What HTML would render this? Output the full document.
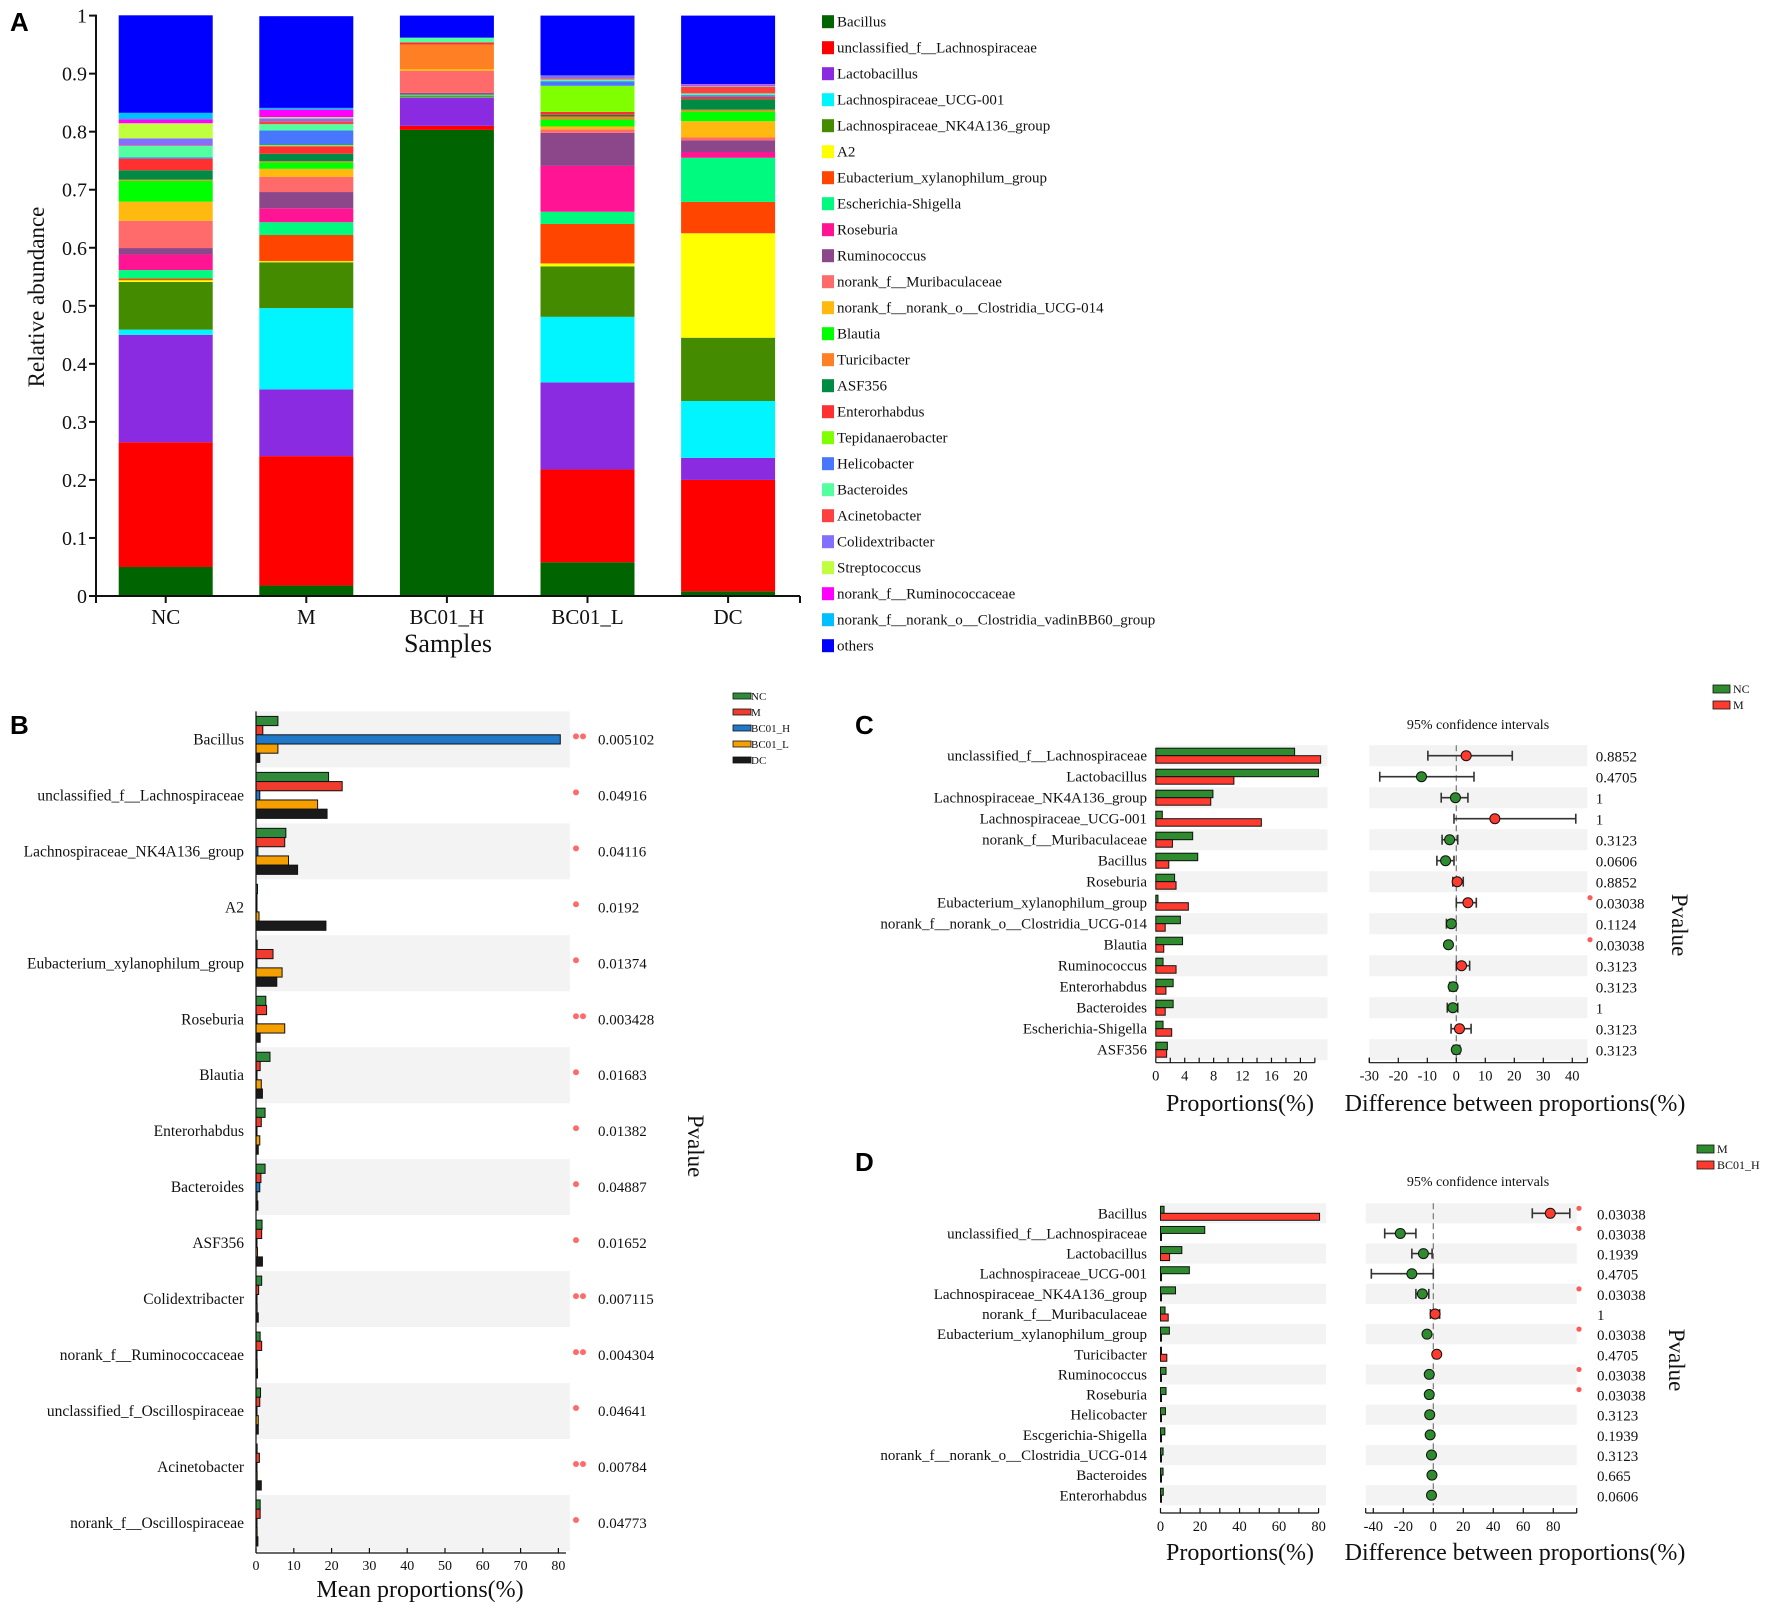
<!DOCTYPE html>
<html><head><meta charset="utf-8"><style>
html,body{margin:0;padding:0;background:#fff;}
svg{display:block;font-family:"Liberation Serif",serif;}
.pl{font-family:"Liberation Sans",sans-serif;font-weight:bold;font-size:26px;}
</style></head><body>
<svg id="fig" width="1772" height="1612" viewBox="0 0 1772 1612" xmlns="http://www.w3.org/2000/svg">
<rect x="0" y="0" width="1772" height="1612" fill="#fff"/>
<text class="pl" x="10" y="31">A</text>
<text class="pl" x="10" y="734">B</text>
<text class="pl" x="855" y="734">C</text>
<text class="pl" x="855" y="1171">D</text>
</svg>
<script>
// ---------- Panel A data ----------
const aSamples = ["NC","M","BC01_H","BC01_L","DC"];
const aTaxa = ["Bacillus","unclassified_f__Lachnospiraceae","Lactobacillus","Lachnospiraceae_UCG-001","Lachnospiraceae_NK4A136_group","A2","Eubacterium_xylanophilum_group","Escherichia-Shigella","Roseburia","Ruminococcus","norank_f__Muribaculaceae","norank_f__norank_o__Clostridia_UCG-014","Blautia","Turicibacter","ASF356","Enterorhabdus","Tepidanaerobacter","Helicobacter","Bacteroides","Acinetobacter","Colidextribacter","Streptococcus","norank_f__Ruminococcaceae","norank_f__norank_o__Clostridia_vadinBB60_group","others"];
const aColors = ["#006400","#ff0000","#8a2be2","#00f5ff","#458b00","#ffff00","#ff4500","#00fa7f","#ff1493","#8b4789","#ff6a6a","#ffb90f","#00ff00","#ff7f24","#008b45","#ff3030","#7fff00","#4876ff","#54ff9f","#ff4040","#836fff","#c0ff3e","#ff00ff","#00bfff","#0000ff"];
const aNC = [0.050,0.215,0.185,0.009,0.082,0.003,0.003,0.0145,0.027,0.011,0.047,0.033,0.036,0.002,0.016,0.020,0.000,0.002,0.020,0.001,0.012,0.026,0.007,0.011,0.168];
const aM = [0.018,0.223,0.115,0.140,0.079,0.002,0.045,0.022,0.024,0.028,0.026,0.014,0.011,0.002,0.013,0.013,0.002,0.025,0.011,0.005,0.005,0.002,0.013,0.003,0.158];
const aH = [0.803,0.007,0.048,0.001,0.002,0.000,0.001,0.002,0.001,0.002,0.038,0.003,0.000,0.042,0.000,0.004,0.000,0.000,0.008,0.000,0.000,0.000,0.000,0.000,0.038];
const aL = [0.058,0.160,0.150,0.113,0.087,0.005,0.068,0.021,0.079,0.057,0.006,0.005,0.012,0.005,0.003,0.005,0.045,0.008,0.003,0.002,0.005,0.000,0.000,0.000,0.103];
const aDC = [0.008,0.192,0.038,0.098,0.109,0.180,0.054,0.076,0.010,0.020,0.005,0.028,0.017,0.003,0.018,0.004,0.000,0.003,0.003,0.011,0.001,0.001,0.002,0.001,0.118];
const aYTicks = [0,0.1,0.2,0.3,0.4,0.5,0.6,0.7,0.8,0.9,1];
const aYTickLabels = ["0","0.1","0.2","0.3","0.4","0.5","0.6","0.7","0.8","0.9","1"];

// ---------- Panel B data ----------
const bTaxa = ["Bacillus","unclassified_f__Lachnospiraceae","Lachnospiraceae_NK4A136_group","A2","Eubacterium_xylanophilum_group","Roseburia","Blautia","Enterorhabdus","Bacteroides","ASF356","Colidextribacter","norank_f__Ruminococcaceae","unclassified_f_Oscillospiraceae","Acinetobacter","norank_f__Oscillospiraceae"];
const bGroups = ["NC","M","BC01_H","BC01_L","DC"];
const bColors = ["#2f8a3a","#f03c2c","#1f78c8","#f5a000","#1a1a1a"];
const bNC = [5.8,19.2,7.9,0.4,0.3,2.6,3.7,2.4,2.4,1.6,1.5,1.1,1.2,0.3,1.1];
const bM = [1.8,22.8,7.6,0.2,4.5,2.8,1.1,1.4,1.3,1.5,0.7,1.5,1.0,0.9,1.1];
const bH = [80.5,1.0,0.5,0.1,0.1,0.1,0.1,0.2,1.0,0.1,0.1,0.1,0.2,0.1,0.2];
const bL = [5.8,16.3,8.6,0.8,6.9,7.6,1.4,1.0,0.3,0.4,0.3,0.3,0.6,0.3,0.3];
const bDC = [1.0,18.8,11.0,18.5,5.5,1.1,1.7,0.6,0.5,1.7,0.6,0.4,0.6,1.4,0.5];
const bPvals = ["0.005102","0.04916","0.04116","0.0192","0.01374","0.003428","0.01683","0.01382","0.04887","0.01652","0.007115","0.004304","0.04641","0.00784","0.04773"];
const bStars = [2,1,1,1,1,2,1,1,1,1,2,2,1,2,1];
const bTicks = [0,10,20,30,40,50,60,70,80];

// ---------- Panel C data ----------
const cTaxa = ["unclassified_f__Lachnospiraceae","Lactobacillus","Lachnospiraceae_NK4A136_group","Lachnospiraceae_UCG-001","norank_f__Muribaculaceae","Bacillus","Roseburia","Eubacterium_xylanophilum_group","norank_f__norank_o__Clostridia_UCG-014","Blautia","Ruminococcus","Enterorhabdus","Bacteroides","Escherichia-Shigella","ASF356"];
const cNC = [19.2,22.5,7.9,0.9,5.1,5.8,2.6,0.3,3.4,3.7,1.0,2.4,2.4,1.0,1.6];
const cM = [22.8,10.8,7.6,14.6,2.3,1.8,2.8,4.5,1.3,1.1,2.8,1.4,1.3,2.2,1.5];
const cDiff = [3.4,-12.0,-0.3,13.3,-2.3,-3.7,0.3,4.0,-1.7,-2.7,1.8,-1.1,-1.2,1.1,0.0];
const cLow = [-9.8,-26.4,-5.2,-0.8,-4.9,-6.7,-1.2,0.0,-3.4,-3.1,0.0,-2.3,-3.1,-1.8,-1.0];
const cHigh = [19.3,6.1,4.0,41.2,0.5,-0.8,2.4,6.9,-0.9,-2.2,4.6,0.0,0.5,5.1,1.2];
const cPvals = ["0.8852","0.4705","1","1","0.3123","0.0606","0.8852","0.03038","0.1124","0.03038","0.3123","0.3123","1","0.3123","0.3123"];
const cSig = [0,0,0,0,0,0,0,1,0,1,0,0,0,0,0];
const cBarTicks = [0,2,4,6,8,10,12,14,16,18,20,22];
const cBarTickLabels = ["0","","4","","8","","12","","16","","20",""];
const cDiffTicks = [-30,-20,-10,0,10,20,30,40];
const cDiffTickLabels = ["-30","-20","-10","0","10","20","30","40"];

// ---------- Panel D data ----------
const dTaxa = ["Bacillus","unclassified_f__Lachnospiraceae","Lactobacillus","Lachnospiraceae_UCG-001","Lachnospiraceae_NK4A136_group","norank_f__Muribaculaceae","Eubacterium_xylanophilum_group","Turicibacter","Ruminococcus","Roseburia","Helicobacter","Escgerichia-Shigella","norank_f__norank_o__Clostridia_UCG-014","Bacteroides","Enterorhabdus"];
const dM = [1.8,22.4,10.8,14.6,7.6,2.3,4.5,0.2,2.8,2.8,2.5,2.2,1.3,1.3,1.4];
const dH = [80.5,0.5,4.6,0.3,0.5,3.9,0.2,3.2,0.3,0.2,0.1,0.1,0.1,0.1,0.1];
const dDiff = [78.0,-22.0,-6.6,-14.3,-7.3,1.2,-4.2,2.3,-2.7,-2.7,-2.4,-2.1,-1.2,-0.9,-1.2];
const dLow = [66.0,-32.4,-14.3,-41.3,-11.6,-1.9,-5.0,1.0,-3.3,-3.3,-3.0,-2.8,-1.6,-1.4,-1.7];
const dHigh = [91.0,-11.6,-0.8,0.0,-3.0,4.2,-3.5,3.5,-2.1,-2.1,-1.8,-1.4,-0.8,-0.4,-0.7];
const dPvals = ["0.03038","0.03038","0.1939","0.4705","0.03038","1","0.03038","0.4705","0.03038","0.03038","0.3123","0.1939","0.3123","0.665","0.0606"];
const dSig = [1,1,0,0,1,0,1,0,1,1,0,0,0,0,0];
const dBarTicks = [0,10,20,30,40,50,60,70,80];
const dBarTickLabels = ["0","","20","","40","","60","","80"];
const dDiffTicks = [-40,-20,0,20,40,60,80];
const dDiffTickLabels = ["-40","-20","0","20","40","60","80"];

const NS = "http://www.w3.org/2000/svg";
const svg = document.getElementById("fig");
function mk(tag, attrs, parent) {
  const e = document.createElementNS(NS, tag);
  for (const k in attrs) e.setAttribute(k, attrs[k]);
  (parent || svg).appendChild(e);
  return e;
}
function tx(x, y, s, size, anchor, extra) {
  const e = mk("text", Object.assign({x: x, y: y, "font-size": size, "text-anchor": anchor || "start", fill: "#111"}, extra || {}));
  e.textContent = s;
  return e;
}

// ================= PANEL A =================
(function () {
  const x0 = 96, y0 = 596, y1 = 15.6;
  const yS = v => y0 - v * (y0 - y1);
  const barW = 94, firstLeft = 118.7, step = 140.6;
  const xS = i => firstLeft + i * step;
  const series = [aNC, aM, aH, aL, aDC];
  series.forEach((vals, i) => {
    let cum = 0;
    vals.forEach((v, k) => {
      if (v <= 0) return;
      const r = mk("rect", {x: xS(i), y: yS(cum + v), width: barW, height: yS(cum) - yS(cum + v), fill: aColors[k]});
      
      
      cum += v;
    });
    const lab = tx(xS(i) + barW / 2, 624, aSamples[i], 21, "middle");
    
    
    const t = mk("line", {x1: xS(i) + barW / 2, x2: xS(i) + barW / 2, y1: y0, y2: y0 + 7, stroke: "#111", "stroke-width": 2});
    
    
  });
  const ya = mk("line", {x1: x0, x2: x0, y1: y1 - 1, y2: y0 + 1, stroke: "#111", "stroke-width": 2});
  
  
  const xa = mk("line", {x1: x0 - 1, x2: 800, y1: y0, y2: y0, stroke: "#111", "stroke-width": 2});
  
  
  [x0, 800].forEach(xx => {
    const t = mk("line", {x1: xx, x2: xx, y1: y0, y2: y0 + 7, stroke: "#111", "stroke-width": 2});
    
    
  });
  aYTicks.forEach((v, i) => {
    const t = mk("line", {x1: x0 - 7, x2: x0, y1: yS(v), y2: yS(v), stroke: "#111", "stroke-width": 2});
    
    
    const l = tx(x0 - 9, yS(v) + 7, aYTickLabels[i], 20, "end");
    
    
  });
  const yt = tx(0, 0, "Relative abundance", 23, "middle", {transform: "translate(44,297) rotate(-90)"});
  
  
  const xt = tx(448, 652, "Samples", 26, "middle");
  
  
  aTaxa.forEach((n, k) => {
    const cy = 21.7 + k * 26;
    const s = mk("rect", {x: 822, y: cy - 6.5, width: 12, height: 13, fill: aColors[k]});
    
    
    const l = tx(837, cy + 5, n, 15, "start");
    
    
  });
})();

// ================= PANEL B =================
(function () {
  const x0 = 256, xs = 3.78, cy0 = 739.4, dy = 55.97, bandEnd = 570, axY = 1553;
  const xS = v => x0 + v * xs;
  const series = [bNC, bM, bH, bL, bDC];
  bTaxa.forEach((n, i) => {
    const cy = cy0 + i * dy;
    if (i % 2 === 0) {
      const b = mk("rect", {x: x0, y: cy - dy / 2, width: bandEnd - x0, height: dy, fill: "#f3f3f3"});
      
      
    }
    series.forEach((vals, g) => {
      const r = mk("rect", {x: x0, y: cy - 23 + g * 9.2, width: Math.max(xS(vals[i]) - x0, 1), height: 9.2, fill: bColors[g], stroke: "#111", "stroke-width": 1});
      
      
    });
    const l = tx(244, cy + 5, n, 15.5, "end");
    
    
    for (let s = 0; s < bStars[i]; s++) {
      const d = mk("circle", {cx: 576 + s * 7, cy: cy - 3, r: 3, fill: "#ff6b6b"});
      
      
    }
    const p = tx(598, cy + 5, bPvals[i], 15, "start");
    
    
  });
  const va = mk("line", {x1: x0, x2: x0, y1: cy0 - dy / 2, y2: axY, stroke: "#111", "stroke-width": 1.2});
  
  
  const ax = mk("line", {x1: x0, x2: xS(82), y1: axY, y2: axY, stroke: "#111", "stroke-width": 1.2});
  
  
  bTicks.forEach(v => {
    const t = mk("line", {x1: xS(v), x2: xS(v), y1: axY, y2: axY - 5, stroke: "#111", "stroke-width": 1.2});
    
    
    const l = tx(xS(v), axY + 17, String(v), 14, "middle");
    
    
  });
  const xt = tx(420, 1597, "Mean proportions(%)", 24, "middle");
  
  
  const pt = tx(0, 0, "Pvalue", 23, "middle", {transform: "translate(688,1146) rotate(90)"});
  
  
  bGroups.forEach((g, k) => {
    const cy = 696 + k * 16;
    const s = mk("rect", {x: 733, y: cy - 3, width: 18, height: 6, fill: bColors[k], stroke: "#111", "stroke-width": 0.8});
    
    
    const l = tx(751, cy + 4, g, 11, "start");
    
    
  });
})();

// ================= PANELS C & D =================
function extPanel(cfg) {
  const {taxa, g1, g2, diff, low, high, pvals, sig, names, colors} = cfg;
  const xS = v => cfg.bx0 + v * cfg.bs;
  const dS = v => cfg.d0 + v * cfg.ds;
  const bh = cfg.bh;
  const bandTop = cfg.cy0 - cfg.dy / 2;
  const bandBottom = cfg.cy0 + (taxa.length - 0.5) * cfg.dy;
  taxa.forEach((n, i) => {
    const cy = cfg.cy0 + i * cfg.dy;
    if (i % 2 === 0) {
      const b1 = mk("rect", {x: cfg.bx0, y: cy - cfg.dy / 2, width: cfg.bEnd - cfg.bx0, height: cfg.dy, fill: "#f3f3f3"});
      
      
      const b2 = mk("rect", {x: cfg.dStart, y: cy - cfg.dy / 2, width: cfg.dEnd - cfg.dStart, height: cfg.dy, fill: "#f3f3f3"});
      
      
    }
    const r1 = mk("rect", {x: cfg.bx0, y: cy - bh, width: Math.max(xS(g1[i]) - cfg.bx0, 1), height: bh, fill: colors[0], stroke: "#111", "stroke-width": 1});
    
    
    const r2 = mk("rect", {x: cfg.bx0, y: cy, width: Math.max(xS(g2[i]) - cfg.bx0, 1), height: bh, fill: colors[1], stroke: "#111", "stroke-width": 1});
    
    
    const l = tx(cfg.labX, cy + 5, n, 15, "end");
    
    
  });
  const z = mk("line", {x1: dS(0), x2: dS(0), y1: bandTop, y2: bandBottom, stroke: "#777", "stroke-width": 1.2, "stroke-dasharray": "6,4"});
  
  
  taxa.forEach((n, i) => {
    const cy = cfg.cy0 + i * cfg.dy;
    const ci = mk("line", {x1: dS(low[i]), x2: dS(high[i]), y1: cy, y2: cy, stroke: "#333", "stroke-width": 1.6});
    
    
    [low[i], high[i]].forEach(v => {
      const cap = mk("line", {x1: dS(v), x2: dS(v), y1: cy - 5, y2: cy + 5, stroke: "#333", "stroke-width": 1.6});
      
      
    });
    const pt = mk("circle", {cx: dS(diff[i]), cy: cy, r: 5, fill: diff[i] > 0 ? colors[1] : colors[0], stroke: "#111", "stroke-width": 1});
    
    
    if (sig[i]) {
      const s = mk("circle", {cx: cfg.starX, cy: cy - 5, r: 2.6, fill: "#ff5a5a"});
      
      
    }
    const p = tx(cfg.pX, cy + 6, pvals[i], 15, "start");
    
    
  });
  const a1 = mk("line", {x1: cfg.bx0, x2: xS(cfg.bTicks[cfg.bTicks.length - 1]), y1: cfg.axY, y2: cfg.axY, stroke: "#111", "stroke-width": 1.2});
  
  
  cfg.bTicks.forEach((v, k) => {
    const t = mk("line", {x1: xS(v), x2: xS(v), y1: cfg.axY, y2: cfg.axY - 5, stroke: "#111", "stroke-width": 1.2});
    
    
    if (cfg.bTickLabels[k]) {
      const l = tx(xS(v), cfg.axY + 18, cfg.bTickLabels[k], 14.5, "middle");
      
      
    }
  });
  const a2 = mk("line", {x1: cfg.dStart, x2: cfg.dEnd, y1: cfg.axY, y2: cfg.axY, stroke: "#111", "stroke-width": 1.2});
  
  
  [cfg.dStart, cfg.dEnd].forEach(xx => {
    const t = mk("line", {x1: xx, x2: xx, y1: cfg.axY, y2: cfg.axY - 5, stroke: "#111", "stroke-width": 1.2});
    
    
  });
  cfg.dTicks.forEach((v, k) => {
    const t = mk("line", {x1: dS(v), x2: dS(v), y1: cfg.axY, y2: cfg.axY - 5, stroke: "#111", "stroke-width": 1.2});
    
    
    if (cfg.dTickLabels[k]) {
      const l = tx(dS(v), cfg.axY + 18, cfg.dTickLabels[k], 14.5, "middle");
      
      
    }
  });
  const t1 = tx(1240, cfg.titleY, "Proportions(%)", 24, "middle");
  
  
  const t2 = tx(1515, cfg.titleY, "Difference between proportions(%)", 24, "middle");
  
  
  const ci = tx(1478, cfg.ciY, "95% confidence intervals", 14, "middle");
  
  
  const pv = tx(0, 0, "Pvalue", 23, "middle", {transform: "translate(" + cfg.pvTX + "," + cfg.pvTY + ") rotate(90)"});
  
  
  names.forEach((g, k) => {
    const cy = cfg.legY + k * cfg.legDy;
    const s = mk("rect", {x: cfg.legX, y: cy - 4, width: 17, height: 8, fill: colors[k], stroke: "#111", "stroke-width": 0.8});
    
    
    const l = tx(cfg.legX + 20, cy + 4, g, 12, "start");
    
    
  });
}

extPanel({taxa: cTaxa, g1: cNC, g2: cM, diff: cDiff, low: cLow, high: cHigh, pvals: cPvals, sig: cSig,
  names: ["NC", "M"], colors: ["#2e8b2e", "#ff3b30"],
  cy0: 755.7, dy: 21.0, bh: 7.5, bx0: 1155.8, bs: 7.23, bEnd: 1327.5,
  d0: 1456.3, ds: 2.9, dStart: 1369.3, dEnd: 1587.3,
  labX: 1147, pX: 1595.7, starX: 1590, axY: 1062.7,
  bTicks: cBarTicks, bTickLabels: cBarTickLabels, dTicks: cDiffTicks, dTickLabels: cDiffTickLabels,
  titleY: 1111, ciY: 729, pvTX: 1672, pvTY: 925, legX: 1713, legY: 689, legDy: 16});

extPanel({taxa: dTaxa, g1: dM, g2: dH, diff: dDiff, low: dLow, high: dHigh, pvals: dPvals, sig: dSig,
  names: ["M", "BC01_H"], colors: ["#2e8b2e", "#ff3b30"],
  cy0: 1213.3, dy: 20.14, bh: 7, bx0: 1160.5, bs: 1.976, bEnd: 1326,
  d0: 1433.3, ds: 1.5, dStart: 1365.7, dEnd: 1576.7,
  labX: 1147, pX: 1597, starX: 1579, axY: 1513,
  bTicks: dBarTicks, bTickLabels: dBarTickLabels, dTicks: dDiffTicks, dTickLabels: dDiffTickLabels,
  titleY: 1560, ciY: 1186, pvTX: 1669, pvTY: 1360, legX: 1697, legY: 1149, legDy: 16});
</script>
</body></html>
